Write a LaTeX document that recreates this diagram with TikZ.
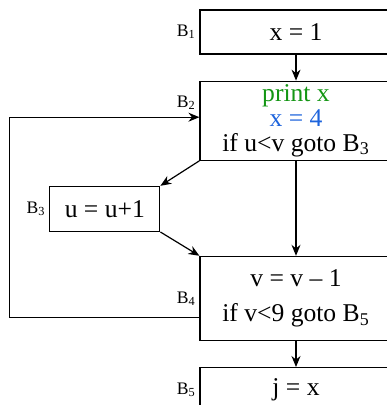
\documentclass[tikz,border=0pt]{standalone}
\usepackage{fontspec}
\setmainfont{Liberation Serif}
\usetikzlibrary{positioning, arrows.meta}
\definecolor{printgreen}{RGB}{20,150,20}
\definecolor{assignblue}{RGB}{30,100,220}

\begin{document}
\begin{tikzpicture}[>={Stealth[length=5.5pt, width=4.5pt, inset=1.8pt]}, line width=0.6pt,
block/.style={draw, align=center, minimum width=96pt, inner sep=1pt, font=\fontsize{12.8}{12.3}\selectfont},
tag/.style={inner sep=1.5pt, font=\fontsize{8.8}{10}\selectfont}]

\useasboundingbox (0,0) rectangle (193pt,-202.5pt);

\node[block, minimum height=22pt] (b1) at (148pt,-16pt) {x = 1};
\node[block, minimum height=39.5pt, below=13pt of b1] (b2) {\textcolor{printgreen}{print x}\\ \textcolor{assignblue}{x = 4}\\ if u<v goto B\textsubscript{3}};
\node[block, minimum height=42pt, below=47.5pt of b2] (b4) {v = v -- 1\\[5.5pt] if v<9 goto B\textsubscript{5}};
\node[block, minimum height=22pt, below=13pt of b4] (b5) {j = x};
\node[block, minimum width=55pt, minimum height=22.5pt, below left=12.5pt and 19.5pt of b2.south west] (b3) {u = u+1};

\node[tag, left=0pt of b1] (t1) {B\textsubscript{1}};
\node[tag, left=0pt of b2.west, yshift=9pt] (t2) {B\textsubscript{2}};
\node[tag, left=0pt of b3] (t3) {B\textsubscript{3}};
\node[tag, left=0pt of b4] (t4) {B\textsubscript{4}};
\node[tag, left=0pt of b5] (t5) {B\textsubscript{5}};

\draw[->] (b1) -- (b2);
\draw[->] (b2.south west) -- (b3.north east);
\draw[->] (b2) -- (b4);
\draw[->] (b3.south east) -- (b4.north west);
\draw[->] (b4) -- (b5);
\draw[->] ([yshift=-9.5pt]b4.west) -- ++(-95pt,0) |- ([yshift=1.75pt]b2.west);

\end{tikzpicture}
\end{document}
